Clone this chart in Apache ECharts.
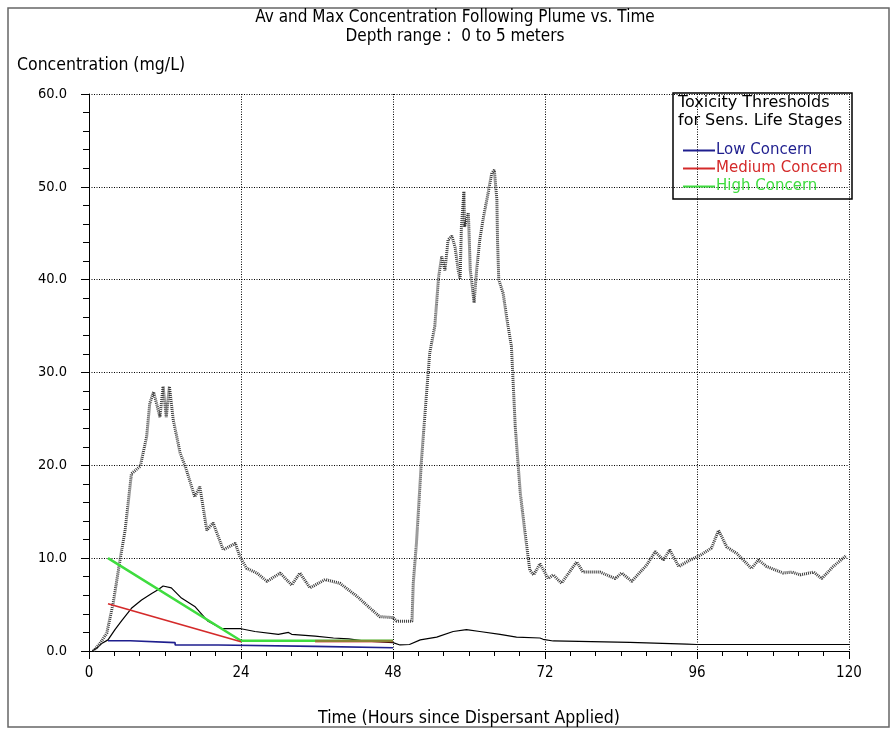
<!DOCTYPE html>
<html>
<head>
<meta charset="utf-8">
<script src="https://cdn.jsdelivr.net/npm/echarts@6/dist/echarts.min.js"></script>
<style>
  html, body { margin: 0; padding: 0; background: #fff; }
  #chart { width: 892px; height: 729px; }
</style>
</head>
<body>
<div id="chart"></div>
<script>
// Maximum concentration following the plume (hours, mg/L)
const maxHours = [0.7,1.7,2.8,3.8,4.9,5.7,6.7,8.1,9.1,9.6,10.2,11.2,11.7,12.2,12.7,13.3,14.4,15.2,16.7,17.5,18.6,19.6,21.2,23.1,23.8,24.9,26.5,28.1,30.2,32,33.3,34.9,37.3,39.6,42.3,44.4,45.9,48,48.6,51,51.2,51.7,52.5,53.3,53.8,54.6,55.2,55.7,56.2,56.7,57.3,57.8,58.3,58.6,58.8,59.2,59.3,59.9,60.2,60.4,60.8,61.2,61.7,62.3,62.9,63.6,64,64.4,64.5,64.7,65.4,66,66.7,67.3,68.1,68.8,69.6,70.2,71.2,72.5,73.3,74.6,77,78,80.7,83.1,84.1,85.7,88.1,89.4,90.7,91.7,93.1,94.9,96.5,98.3,99.4,100.7,102.3,104.6,105.7,107,109.6,111,112.3,114.4,115.7,117.5,119.6];
const maxConc = [0,0.8,1.9,5.1,9.8,13,19.1,19.9,23.1,26.7,27.9,25.2,28.5,25.2,28.5,24.9,21.3,19.9,16.6,17.7,13,13.8,10.9,11.6,10.2,8.9,8.4,7.5,8.4,7.1,8.4,6.8,7.7,7.3,5.9,4.6,3.7,3.6,3.2,3.2,7.3,11.6,20.6,27.8,32.1,35,40.3,42.5,41,44.3,44.7,43.5,41,40.1,45.7,49.5,45.7,47.2,41,40,37.5,41,44.3,46.8,48.9,51.5,51.8,48.6,44.3,40,38.5,35.7,32.8,24.2,17,13,8.7,8.2,9.4,7.8,8.2,7.3,9.6,8.5,8.5,7.8,8.4,7.5,9.3,10.7,9.8,10.9,9.1,9.8,10.3,11.1,13,11.2,10.5,8.9,9.8,9.1,8.4,8.5,8.2,8.5,7.8,9.1,10.3];

// Average concentration following the plume
const avgHours = [0.5,1.2,2,3,4.1,5.2,6.7,8.3,9.9,10.9,11.7,13,14.6,16.7,18.8,21,24,26.2,29.9,31.5,32,35.7,38.6,41,43.3,48,49.1,50.6,52.3,54.9,57.5,59.6,61.7,64.9,67.5,71.2,71.7,73.3,85.4,94.4,96,120];
const avgConc = [0,0.3,0.8,1.2,2.3,3.3,4.6,5.5,6.2,6.6,7,6.8,5.7,4.8,3.2,2.4,2.4,2.1,1.8,2.0,1.8,1.6,1.4,1.3,1.1,0.9,0.65,0.7,1.2,1.5,2.1,2.3,2.1,1.8,1.5,1.4,1.26,1.08,0.93,0.75,0.7,0.7];

// Toxicity thresholds for sensitive life stages
const lowHours = [3,6.5,6.5,13.6,13.6,20.4,20.4,35.7,35.7,48];
const lowConc = [1.1,1.1,0.9,0.9,0.65,0.65,0.5,0.5,0.35,0.35];
const medHours = [3,24];
const medConc = [5.1,1.0];
const medTailHours = [35.7,48];
const medTailConc = [1.05,1.05];
const highHours = [3,24,48];
const highConc = [10,1.1,1.1];

const xTicks = { min: 0, max: 120, step: 24 };
const yTicks = { min: 0, max: 60, step: 10 };

const zip = (xs, ys) => xs.map((x, i) => [x, ys[i]]);

const C_LOW = '#1e1e8e';
const C_MED = '#d42a2a';
const C_HIGH = '#3fdc3f';

const FONT_NARROW = '"DejaVu Sans Condensed", "Liberation Sans Narrow", "DejaVu Sans", sans-serif';
const FONT_WIDE = '"DejaVu Sans", Verdana, sans-serif';

const chart = echarts.init(document.getElementById('chart'), null, { renderer: 'canvas' });

const axisLineStyle = { color: '#000', width: 1 };
const gridDots = { color: '#000', width: 1, type: [1, 1.5] };

chart.setOption({
  animation: false,
  backgroundColor: '#fff',
  grid: { left: 89, right: 43, top: 94, bottom: 78, outerBoundsMode: 'none' },
  xAxis: {
    type: 'value',
    min: xTicks.min, max: xTicks.max, interval: xTicks.step,
    name: 'Time (Hours since Dispersant Applied)',
    nameLocation: 'middle', nameGap: 58,
    nameTextStyle: { fontFamily: FONT_NARROW, fontSize: 17.5, color: '#000' },
    axisLine: { show: true, onZero: false, lineStyle: axisLineStyle },
    axisTick: { show: true, length: 8, lineStyle: axisLineStyle },
    minorTick: { show: true, splitNumber: 6, length: 5, lineStyle: axisLineStyle },
    axisLabel: { margin: 15, fontFamily: FONT_NARROW, fontSize: 15, color: '#000' },
    splitLine: { show: true, lineStyle: gridDots },
    minorSplitLine: { show: false }
  },
  yAxis: {
    type: 'value',
    min: yTicks.min, max: yTicks.max, interval: yTicks.step,
    axisLine: { show: true, onZero: false, lineStyle: axisLineStyle },
    axisTick: { show: true, length: 8, lineStyle: axisLineStyle },
    minorTick: { show: true, splitNumber: 5, length: 6, lineStyle: axisLineStyle },
    axisLabel: {
      margin: 22, fontFamily: FONT_NARROW, fontSize: 14.5, color: '#000',
      formatter: v => v.toFixed(1)
    },
    splitLine: { show: true, lineStyle: gridDots }
  },
  legend: {
    orient: 'vertical',
    left: 678, top: 138,
    itemWidth: 32, itemHeight: 2, itemGap: 3,
    icon: 'rect',
    textStyle: { fontFamily: FONT_WIDE, fontSize: 15, padding: [0, 0, 0, -4] },
    data: [
      { name: 'Low Concern', textStyle: { color: C_LOW } },
      { name: 'Medium Concern', textStyle: { color: C_MED } },
      { name: 'High Concern', textStyle: { color: C_HIGH } }
    ],
    selectedMode: false
  },
  graphic: [
    {
      type: 'rect', silent: true, z: -1,
      shape: { x: 8, y: 8, width: 881, height: 719 },
      style: { fill: 'none', stroke: '#666', lineWidth: 1.5 }
    },
    {
      type: 'text', x: 455, y: 18,
      style: {
        text: 'Av and Max Concentration Following Plume vs. Time',
        font: '17px ' + FONT_NARROW, fill: '#000',
        align: 'center', verticalAlign: 'middle'
      }
    },
    {
      type: 'text', x: 455, y: 37,
      style: {
        text: 'Depth range :  0 to 5 meters',
        font: '17px ' + FONT_NARROW, fill: '#000',
        align: 'center', verticalAlign: 'middle'
      }
    },
    {
      type: 'text', x: 17, y: 65,
      style: {
        text: 'Concentration (mg/L)',
        font: '17.5px ' + FONT_NARROW, fill: '#000',
        align: 'left', verticalAlign: 'middle'
      }
    },
    {
      type: 'rect', silent: true,
      shape: { x: 673, y: 93, width: 179, height: 106 },
      style: { fill: 'none', stroke: '#000', lineWidth: 1.5 }
    },
    {
      type: 'text', x: 678, y: 103,
      style: {
        text: 'Toxicity Thresholds', font: '16px ' + FONT_WIDE, fill: '#000',
        align: 'left', verticalAlign: 'middle'
      }
    },
    {
      type: 'text', x: 678, y: 121,
      style: {
        text: 'for Sens. Life Stages', font: '16px ' + FONT_WIDE, fill: '#000',
        align: 'left', verticalAlign: 'middle'
      }
    }
  ],
  series: [
    {
      name: 'Average', type: 'line', symbol: 'none', z: 3,
      data: zip(avgHours, avgConc),
      lineStyle: { color: '#000', width: 1.2 }
    },
    {
      name: 'Maximum', type: 'line', symbol: 'none', z: 4,
      data: zip(maxHours, maxConc),
      lineStyle: { color: '#3a3a3a', width: 3, type: [1, 1] }
    },
    {
      name: 'Low Concern', type: 'line', symbol: 'none', z: 5,
      color: C_LOW,
      data: zip(lowHours, lowConc),
      lineStyle: { color: C_LOW, width: 1.6 }
    },
    {
      name: 'High Concern', type: 'line', symbol: 'none', z: 5,
      color: C_HIGH,
      data: zip(highHours, highConc),
      lineStyle: { color: C_HIGH, width: 2.5 }
    },
    {
      name: 'Medium Concern', type: 'line', symbol: 'none', z: 6,
      color: C_MED,
      data: zip(medHours, medConc),
      lineStyle: { color: C_MED, width: 1.6 }
    },
    {
      name: 'Medium Concern', type: 'line', symbol: 'none', z: 6,
      color: C_MED,
      data: zip(medTailHours, medTailConc),
      lineStyle: { color: C_MED, width: 3, opacity: 0.5 }
    }
  ]
});
</script>
</body>
</html>
